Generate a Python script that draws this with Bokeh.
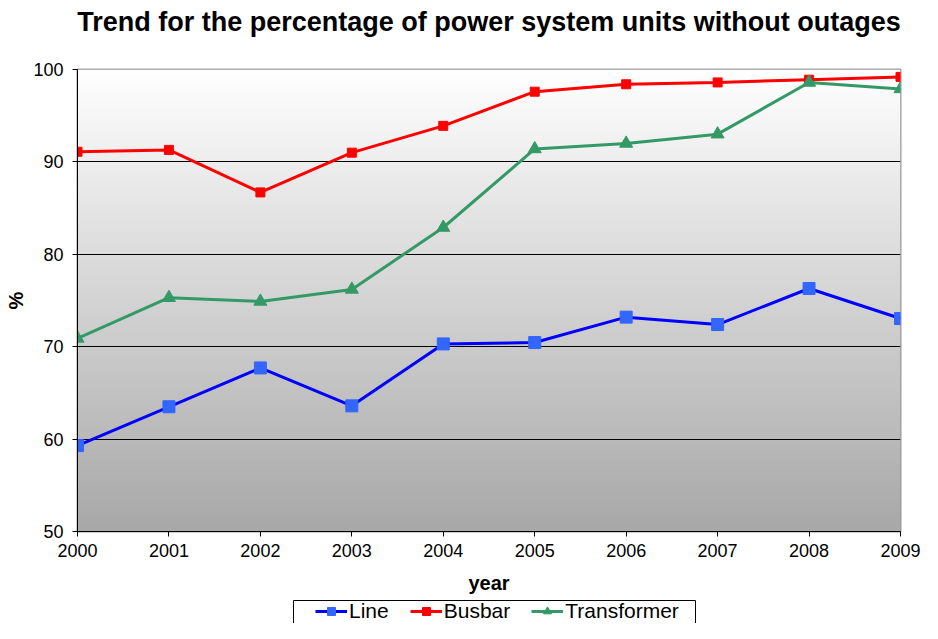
import numpy as np
from bokeh.plotting import figure
from bokeh.layouts import column
from bokeh.models import Legend, LegendItem, FixedTicker, Range1d
from bokeh.embed import file_html
from bokeh.resources import INLINE

years = [2000, 2001, 2002, 2003, 2004, 2005, 2006, 2007, 2008, 2009]
line_vals = [59.3, 63.5, 67.7, 63.6, 70.3, 70.45, 73.2, 72.4, 76.3, 73.05]
busbar_vals = [91.1, 91.3, 86.7, 91.0, 93.9, 97.6, 98.4, 98.6, 98.9, 99.2]
transformer_vals = [70.9, 75.3, 74.9, 76.2, 82.9, 91.4, 92.0, 93.0, 98.6, 97.9]
y_ticks = [50, 60, 70, 80, 90, 100]
series_names = ["Line", "Busbar", "Transformer"]

FONT = "Liberation Sans"
W = 922
LEFT, RIGHT = 77, 22
TITLE_H = 44

# title strip
t = figure(width=W, height=TITLE_H, output_backend="svg", toolbar_location=None,
           x_range=Range1d(0, 1), y_range=Range1d(0, 1),
           min_border_left=LEFT, min_border_right=RIGHT, min_border_top=0, min_border_bottom=0)
t.axis.visible = False
t.grid.grid_line_color = None
t.outline_line_color = None
t.title.text = "Trend for the percentage of power system units without outages"
t.title.text_font = FONT
t.title.text_font_size = "27px"
t.title.text_font_style = "bold"
t.title.text_color = "black"
t.title.align = "center"
t.title.vertical_align = "bottom"
t.title.offset = 0
t.title.standoff = 8

p = figure(width=W, height=596 - TITLE_H, output_backend="svg", toolbar_location=None,
           x_range=Range1d(2000, 2009), y_range=Range1d(50, 100),
           min_border_left=LEFT, min_border_right=RIGHT, min_border_top=69 - TITLE_H,
           min_border_bottom=65)

# gradient background
n = 200
g = np.linspace(168, 255, n)
img = np.zeros((n, 1), dtype=np.uint32)
view = img.view(dtype=np.uint8).reshape((n, 1, 4))
view[:, 0, 0] = g.astype(np.uint8)
view[:, 0, 1] = g.astype(np.uint8)
view[:, 0, 2] = g.astype(np.uint8)
view[:, 0, 3] = 255
p.image_rgba(image=[img], x=2000, y=50, dw=9, dh=50, level="underlay")

p.background_fill_color = "white"
p.border_fill_color = "white"
p.outline_line_color = "#999999"
p.outline_line_width = 2

p.xgrid.grid_line_color = None
p.ygrid.grid_line_color = "black"
p.ygrid.grid_line_width = 1

p.xaxis.ticker = FixedTicker(ticks=years)
p.yaxis.ticker = FixedTicker(ticks=y_ticks)
for ax in (p.xaxis, p.yaxis):
    ax.axis_line_color = "black"
    ax.axis_line_width = 1
    ax.major_tick_line_color = "black"
    ax.major_tick_in = 0
    ax.major_tick_out = 5
    ax.minor_tick_line_color = None
    ax.major_label_text_font = FONT
    ax.major_label_text_font_size = "18px"
    ax.major_label_text_color = "black"
    ax.axis_label_text_font = FONT
    ax.axis_label_text_font_size = "20px"
    ax.axis_label_text_font_style = "bold"
    ax.axis_label_text_color = "black"
p.xaxis.axis_label = "year"
p.yaxis.axis_label = "%"
p.xaxis.major_label_standoff = 7
p.xaxis.axis_label_standoff = 12
p.yaxis.major_label_standoff = 9
p.yaxis.axis_label_standoff = 3

styles = [
    dict(line="#0000FF", fill="#3366FF", marker="square", size=12),
    dict(line="#FF0000", fill="#FF0000", marker="square", size=9),
    dict(line="#339966", fill="#339966", marker="triangle", size=13),
]
data = [line_vals, busbar_vals, transformer_vals]
for vals, st in zip(data, styles):
    p.line(years, vals, line_color=st["line"], line_width=3)
    p.scatter(years, vals, marker=st["marker"], size=st["size"],
              fill_color=st["fill"], line_color=st["fill"])

# legend strip: frame aligned with main frame, ranges in page pixels
q = figure(width=W, height=27, output_backend="svg", toolbar_location=None,
           x_range=Range1d(LEFT, W - RIGHT), y_range=Range1d(0, 27),
           min_border_left=LEFT, min_border_right=RIGHT, min_border_top=0, min_border_bottom=0)
q.axis.visible = False
q.grid.grid_line_color = None
q.outline_line_color = None
q.quad(left=[293], right=[695], top=[23], bottom=[-10],
       fill_color="white", line_color="black", line_width=1)
items = []
for name, st in zip(series_names, styles):
    r1 = q.line([-100, -90], [-100, -90], line_color=st["line"], line_width=3)
    r2 = q.scatter([-100], [-100], marker=st["marker"], size=st["size"] - 2,
                   fill_color=st["fill"], line_color=st["fill"])
    items.append(LegendItem(label=name, renderers=[r1, r2]))

legend = Legend(items=items, orientation="horizontal", location=(315 - LEFT, 0))
legend.label_text_font = FONT
legend.label_text_font_size = "21px"
legend.label_text_color = "black"
legend.border_line_color = None
legend.background_fill_color = None
legend.background_fill_alpha = 0
legend.glyph_width = 32
legend.glyph_height = 20
legend.spacing = 21
legend.label_standoff = 2
legend.padding = 0
legend.margin = 0
q.add_layout(legend, "center")

layout = column(t, p, q, spacing=0)
open("out.html", "w").write(file_html(layout, INLINE))
